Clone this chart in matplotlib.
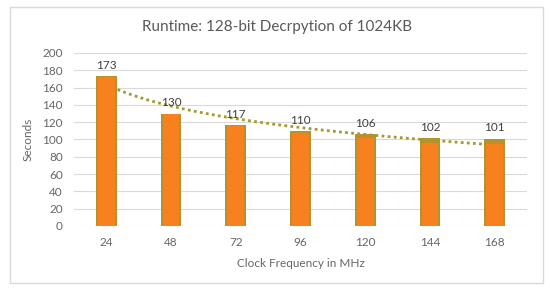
import matplotlib.pyplot as plt
import numpy as np
from matplotlib.patches import Rectangle

# data
freqs = ['24', '48', '72', '96', '120', '144', '168']
runtime = [173, 130, 117, 110, 106, 102, 101]
inner = [172, 129, 116, 107, 102, 96, 95]

plt.rcParams['font.family'] = ['Lato', 'DejaVu Sans']

fig = plt.figure(figsize=(5.5, 2.92), dpi=100)
ax = fig.add_axes([74 / 550, 1 - 226 / 292, 453 / 550, 173 / 292])

x = np.arange(len(freqs))

# trend line (log fit, as Excel does on category index)
b, a = np.polyfit(np.log(x + 1), runtime, 1)
xt = np.linspace(0, len(freqs) - 1, 100)
ax.plot(xt, a + b * np.log(xt + 1), linestyle=(0, (1, 1.2)), color='#a39a2c',
        linewidth=2, zorder=2)

ax.bar(x, runtime, width=0.32, color='#b5922a', zorder=3)
ax.bar(x, inner, width=0.26, color='#f7801f', zorder=4)

for xi, v in zip(x, runtime):
    ax.text(xi, v + 6, str(v), ha='center', va='bottom', fontsize=8.5,
            color='#404040', zorder=5)

ax.set_xlim(-0.5, len(freqs) - 0.5)
ax.set_ylim(0, 200)
ax.set_yticks(range(0, 201, 20))
ax.set_xticks(x)
ax.set_xticklabels(freqs)
ax.grid(axis='y', color='#d9d9d9', linewidth=0.8, zorder=0)
ax.set_axisbelow(True)
for s in ax.spines.values():
    s.set_visible(False)
ax.tick_params(length=0, labelsize=8.5, labelcolor='#666666', pad=8)
ax.tick_params(axis='y', pad=8)

ax.set_xlabel('Clock Frequency in MHz', fontsize=8.5, color='#666666',
              labelpad=7)
ax.set_ylabel('Seconds', fontsize=8.5, color='#666666', labelpad=6)
fig.text(0.504, 1 - 27 / 292, 'Runtime: 128-bit Decrpytion of 1024KB',
         ha='center', va='center', fontsize=11, color='#595959')

fig.patches.append(Rectangle((10 / 550, 1 - 283 / 292), 533 / 550, 276 / 292,
                             transform=fig.transFigure, fill=False,
                             edgecolor='#d9d9d9', linewidth=1))

fig.savefig('out.png', dpi=100)
